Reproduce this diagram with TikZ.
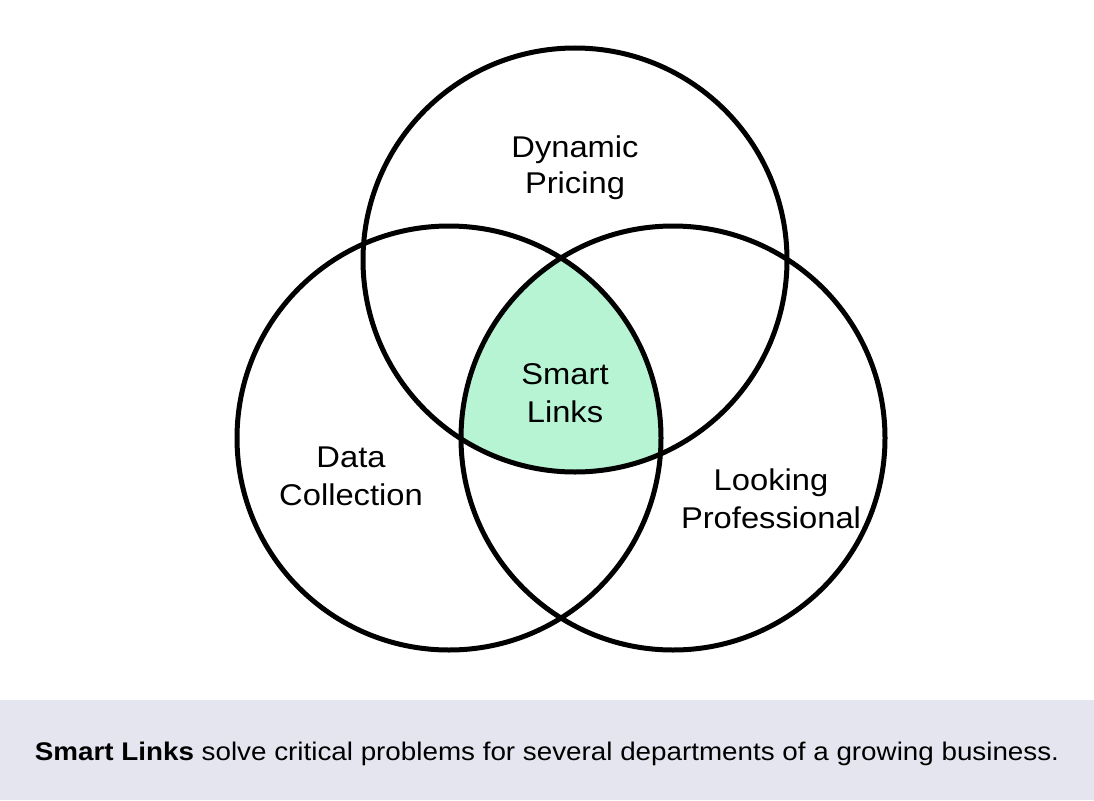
\documentclass[tikz,border=0pt]{standalone}
\usepackage{fontspec}
\setmainfont[FakeStretch=1.09]{Liberation Sans}
\definecolor{mint}{RGB}{182,244,212}
\definecolor{band}{RGB}{229,229,240}
\begin{document}
\begin{tikzpicture}[x=1pt,y=-1pt,
  ring/.style={draw=black,line width=5pt},
  lbl/.style={anchor=base,inner sep=0pt,font=\fontsize{30}{36}\selectfont},
  captext/.style={anchor=base,inner sep=0pt,font=\fontsize{25.5}{30}\selectfont}]
\useasboundingbox (0,0) rectangle (1094,800);
\fill[white] (0,0) rectangle (1094,800);
\fill[band] (0,700) rectangle (1094,800);
% triple intersection
\begin{scope}
  \clip (575,260) circle[radius=212];
  \clip (449,438) circle[radius=212];
  \fill[mint] (673,438) circle[radius=212];
\end{scope}
\node[ring,circle,minimum size=424pt,inner sep=0pt] (top) at (575,260) {};
\node[ring,circle,minimum size=424pt,inner sep=0pt] (left) at (449,438) {};
\node[ring,circle,minimum size=424pt,inner sep=0pt] (right) at (673,438) {};
\node[lbl] (dp1) at (575,157) {Dynamic};
\node[lbl] (dp2) at (575,193) {Pricing};
\node[lbl] (sl1) at (565,384) {Smart};
\node[lbl] (sl2) at (565,422) {Links};
\node[lbl] (dc1) at (351,467) {Data};
\node[lbl] (dc2) at (351,505) {Collection};
\node[lbl] (lp1) at (771,490) {Looking};
\node[lbl] (lp2) at (771,528) {Professional};
\node[captext] (caption) at (547,760) {\textbf{Smart Links} solve critical problems for several departments of a growing business.};
\end{tikzpicture}
\end{document}
